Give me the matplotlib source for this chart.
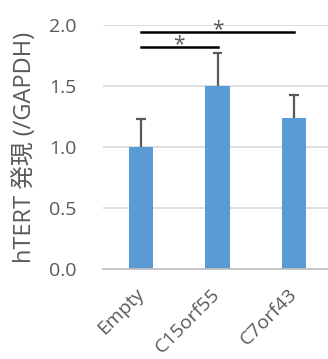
import matplotlib
matplotlib.use("Agg")
import matplotlib.pyplot as plt

plt.rcParams['font.family'] = ['Open Sans', 'Noto Sans CJK JP', 'DejaVu Sans']

categories = ["Empty", "C15orf55", "C7orf43"]
values = [1.00, 1.50, 1.24]
errors = [0.23, 0.27, 0.19]
yticks = [0.0, 0.5, 1.0, 1.5, 2.0]
ylabel = "hTERT 発現 (/GAPDH)"
# significance brackets: (from index, to index, height)
brackets = [(0, 1, 1.82), (0, 2, 1.945)]

bar_color = "#5B9BD5"
text_gray = "#595959"

fig = plt.figure(figsize=(3.28, 3.59), dpi=100)
ax = fig.add_axes([103 / 328, (359 - 269) / 359, (332 - 103) / 328, 244 / 359])

x = list(range(len(categories)))
ax.bar(x, values, width=0.315, color=bar_color, zorder=3)

# upper-only error bars with caps
tops = [v + e for v, e in zip(values, errors)]
cap = 0.065
ax.vlines(x, values, tops, color=text_gray, linewidth=1.6, zorder=4)
ax.hlines(tops, [i - cap for i in x], [i + cap for i in x],
          color=text_gray, linewidth=1.6, zorder=4)

ax.set_xlim(-0.5, 2.5)
ax.set_ylim(0, 2.0)
ax.set_yticks(yticks)
ax.set_yticklabels([f"{v:.1f}" for v in yticks], color=text_gray, fontsize=14)
ax.set_xticks(x)
ax.set_xticklabels(categories, rotation=45, ha="right", va="center",
                   rotation_mode="anchor", color=text_gray, fontsize=14)
ax.tick_params(axis="y", length=0, pad=19)
ax.tick_params(axis="x", length=0, pad=16)

ax.grid(axis="y", color="#d9d9d9", linewidth=1.2, zorder=0)
for s in ["top", "right", "left"]:
    ax.spines[s].set_visible(False)
ax.spines["bottom"].set_color("#bfbfbf")
ax.spines["bottom"].set_linewidth(1.2)
ax.spines["bottom"].set_zorder(5)

ax.set_ylabel(ylabel, color=text_gray, fontsize=17, labelpad=9)

for i, j, h in brackets:
    ax.plot([i, j], [h, h], color="black", linewidth=1.8, clip_on=False, zorder=5)
    ax.text((i + j) / 2, h - 0.025, "*", ha="center", va="baseline",
            color=text_gray, fontsize=15, clip_on=False)

fig.savefig("out.png", dpi=100)
